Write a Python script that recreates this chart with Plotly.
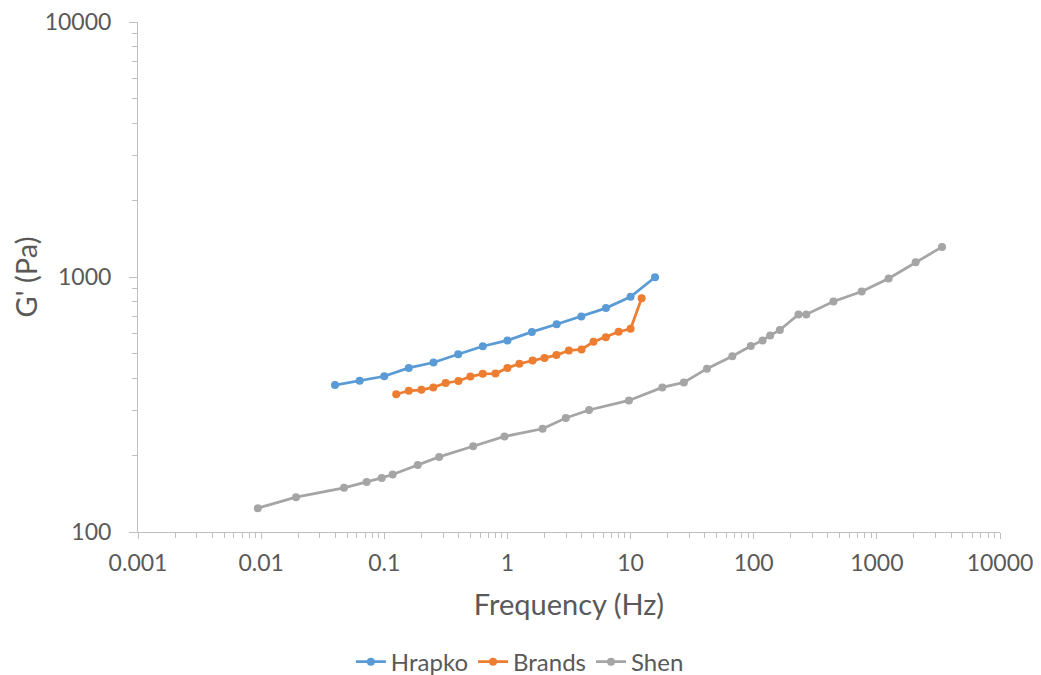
import plotly.graph_objects as go

# ---- data ----
hrapko_freq = [0.0398, 0.0631, 0.1, 0.158, 0.251, 0.398, 0.631, 1.0, 1.58, 2.51, 3.98, 6.31, 10.0, 15.8]
hrapko_g = [377, 392, 408, 440, 462, 498, 535, 564, 609, 653, 700, 755, 836, 998]

brands_freq = [0.125, 0.158, 0.2, 0.25, 0.315, 0.4, 0.5, 0.63, 0.8, 1.0, 1.25, 1.6, 2.0, 2.5,
               3.15, 4.0, 5.0, 6.3, 8.0, 10.0, 12.3]
brands_g = [347, 358, 361, 369, 384, 391, 407, 417, 418, 440, 457, 471, 481, 494,
            515, 520, 557, 581, 610, 626, 826]

shen_freq = [0.0094, 0.0192, 0.0471, 0.0719, 0.0953, 0.117, 0.187, 0.279, 0.527, 0.946,
             1.93, 2.98, 4.6, 9.7, 18.1, 27.1, 41.7, 67, 94.7, 118, 136, 163, 231, 267,
             444, 753, 1247, 2065, 3381]
shen_g = [124, 137, 149, 157, 163, 168, 183, 197, 217, 237,
          254, 280, 301, 328, 369, 386, 437, 489, 536, 564, 590, 620, 713, 713,
          802, 877, 987, 1142, 1312]

series_names = ["Hrapko", "Brands", "Shen"]
series_colors = ["#5B9BD5", "#ED7D31", "#A5A5A5"]

x_tickvals = [0.001, 0.01, 0.1, 1, 10, 100, 1000, 10000]
x_ticktext = ["0.001", "0.01", "0.1", "1", "10", "100", "1000", "10000"]
y_tickvals = [100, 1000, 10000]
y_ticktext = ["100", "1000", "10000"]

x_title = "Frequency (Hz)"
y_title = "G' (Pa)"

FONT = "Lato, Carlito, Calibri, sans-serif"
TXT = "#595959"
AXC = "#BFBFBF"
CLEAR = "rgba(0,0,0,0)"

fig = go.Figure()
for name, xs, ys, col in zip(series_names,
                             [hrapko_freq, brands_freq, shen_freq],
                             [hrapko_g, brands_g, shen_g],
                             series_colors):
    fig.add_trace(go.Scatter(
        x=xs, y=ys, name=name, mode="lines+markers",
        line=dict(color=col, width=2.75),
        marker=dict(color=col, size=8, symbol="circle"),
    ))

# empty helper trace so the overlay axes (tick marks only) are drawn
fig.add_trace(go.Scatter(x=[], y=[], xaxis="x2", yaxis="y2",
                         showlegend=False, hoverinfo="skip"))

# page has an 8px body margin, so the figure is sized to fill the rest of the window
fig.update_layout(
    width=1033, height=667,
    margin=dict(l=130, r=41, t=14, b=143, autoexpand=False),
    paper_bgcolor="white", plot_bgcolor="white",
    font=dict(family=FONT, color=TXT, size=23),
    showlegend=True,
    legend=dict(orientation="h", x=0.443, xanchor="center",
                y=-0.255, yanchor="middle",
                font=dict(size=24, color=TXT), itemwidth=30, traceorder="normal"),
    # main axes: labels + titles (their own tick marks are transparent, to push labels out)
    xaxis=dict(
        type="log", range=[-3, 4],
        tickvals=x_tickvals, ticktext=x_ticktext,
        tickfont=dict(size=23, color=TXT, family=FONT),
        ticklabeloverflow="allow",
        showgrid=False, zeroline=False,
        showline=True, linecolor=AXC, linewidth=1,
        ticks="outside", ticklen=10, tickcolor=CLEAR,
        title=dict(text=x_title, font=dict(size=29, color=TXT, family=FONT), standoff=20),
    ),
    yaxis=dict(
        type="log", range=[2, 4],
        tickvals=y_tickvals, ticktext=y_ticktext,
        tickfont=dict(size=23, color=TXT, family=FONT),
        ticklabeloverflow="allow",
        showgrid=False, zeroline=False,
        showline=True, linecolor=AXC, linewidth=1,
        ticks="outside", ticklen=21, tickcolor=CLEAR,
        title=dict(text=y_title, font=dict(size=29, color=TXT, family=FONT), standoff=0),
    ),
    # overlay axes: visible major + minor tick marks only
    xaxis2=dict(
        overlaying="x", anchor="y", side="bottom",
        type="log", range=[-3, 4],
        tickvals=x_tickvals, showticklabels=False,
        showgrid=False, zeroline=False, showline=False,
        ticks="outside", ticklen=6, tickcolor=AXC,
        minor=dict(ticks="outside", ticklen=5, tickcolor=AXC, dtick="D1", showgrid=False),
    ),
    yaxis2=dict(
        overlaying="y", anchor="x", side="left",
        type="log", range=[2, 4],
        tickvals=y_tickvals, showticklabels=False,
        showgrid=False, zeroline=False, showline=False,
        ticks="outside", ticklen=8, tickcolor=AXC,
        minor=dict(ticks="outside", ticklen=5, tickcolor=AXC, dtick="D1", showgrid=False),
    ),
)

fig.write_html("out.html")
